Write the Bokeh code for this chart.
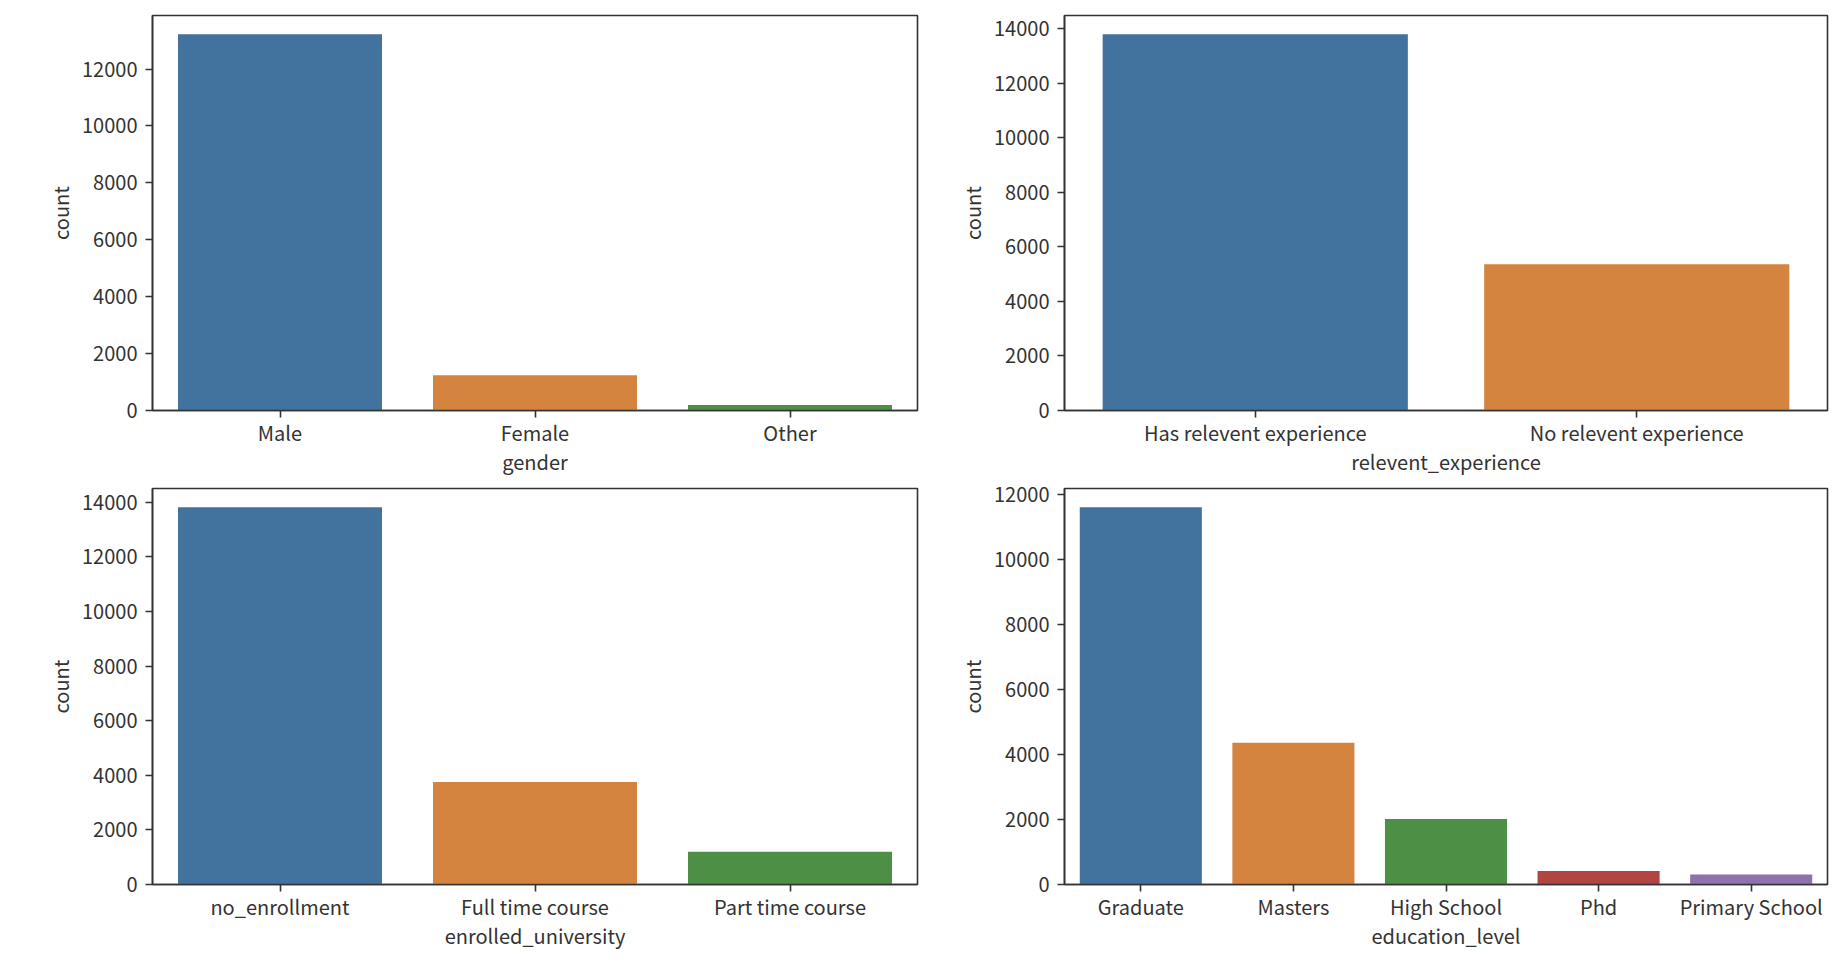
from bokeh.plotting import figure
from bokeh.models import FactorRange, Range1d, FixedTicker
from bokeh.layouts import column, row
from bokeh.embed import file_html
from bokeh.resources import INLINE

# ---- data ----
gender_cats = ["Male", "Female", "Other"]
gender_counts = [13221, 1238, 191]

exp_cats = ["Has relevent experience", "No relevent experience"]
exp_counts = [13792, 5366]

enroll_cats = ["no_enrollment", "Full time course", "Part time course"]
enroll_counts = [13817, 3757, 1198]

edu_cats = ["Graduate", "Masters", "High School", "Phd", "Primary School"]
edu_counts = [11598, 4361, 2017, 414, 308]

palette = ["#42729e", "#d4843f", "#4d9045", "#b24541", "#8e71ad"]

FONT = "Noto Sans CJK KR"
FS = "20px"
TXT = "#333333"
LINE = "#333333"


def make(cats, counts, xlabel, width, height, bl, br, bt, bb):
    ymax = max(counts) * 1.05
    p = figure(x_range=FactorRange(*cats, range_padding=0),
               y_range=Range1d(0, ymax),
               width=width, height=height,
               output_backend="svg", toolbar_location=None,
               min_border_left=bl, min_border_right=br,
               min_border_top=bt, min_border_bottom=bb)
    p.vbar(x=cats, top=counts, width=0.8,
           fill_color=palette[:len(cats)], line_color=None)
    p.xgrid.visible = False
    p.ygrid.visible = False
    p.outline_line_color = LINE
    p.outline_line_width = 1.6
    p.outline_line_alpha = 1.0
    ticks = list(range(0, int(ymax) + 1, 2000))
    p.yaxis.ticker = FixedTicker(ticks=ticks)
    p.yaxis.minor_tick_line_color = None
    p.yaxis.axis_label = "count"
    p.xaxis.axis_label = xlabel
    for ax in (p.xaxis[0], p.yaxis[0]):
        ax.axis_line_color = LINE
        ax.axis_line_width = 1.6
        ax.major_tick_line_color = LINE
        ax.major_tick_line_width = 1.6
        ax.major_tick_out = 7
        ax.major_tick_in = 0
        ax.major_label_text_font = FONT
        ax.major_label_text_font_size = FS
        ax.major_label_text_color = TXT
        ax.axis_label_text_font = FONT
        ax.axis_label_text_font_size = FS
        ax.axis_label_text_color = TXT
        ax.axis_label_text_font_style = "normal"
    p.xaxis.major_label_standoff = 0
    p.xaxis.axis_label_standoff = -3
    p.yaxis.major_label_standoff = 8
    p.yaxis.axis_label_standoff = 4
    p.yaxis.major_label_orientation = "horizontal"
    return p


p1 = make(gender_cats, gender_counts, "gender", 927, 478, 152, 10, 15, 68)
p2 = make(exp_cats, exp_counts, "relevent_experience", 905, 478, 137, 5, 15, 68)
p3 = make(enroll_cats, enroll_counts, "enrolled_university", 927, 474, 152, 10, 10, 68)
p4 = make(edu_cats, edu_counts, "education_level", 905, 474, 137, 5, 10, 68)

layout = column(row(p1, p2), row(p3, p4))
open("out.html", "w").write(file_html(layout, INLINE))
